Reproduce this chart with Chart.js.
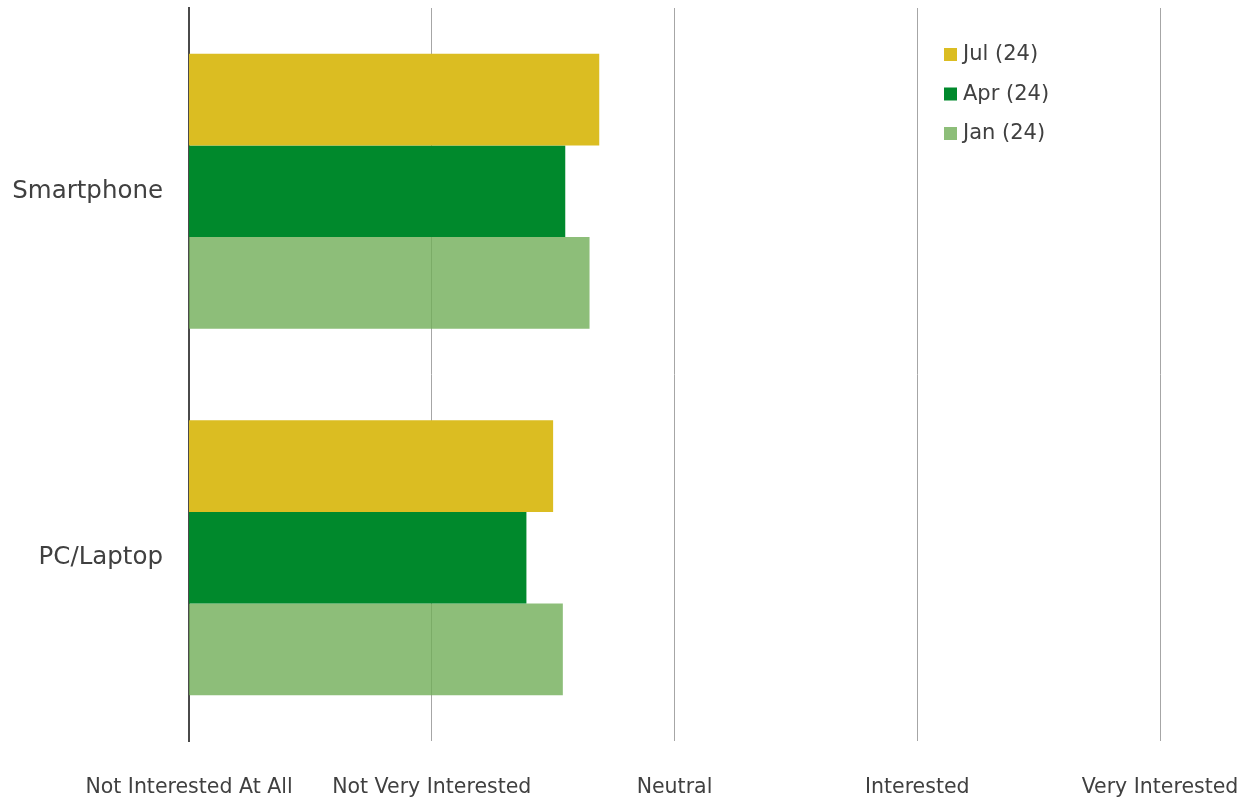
<!DOCTYPE html>
<html>
<head>
<meta charset="utf-8">
<script src="https://cdn.jsdelivr.net/npm/chart.js@4/dist/chart.umd.min.js"></script>
<style>
  html, body { margin: 0; padding: 0; background: #ffffff; }
  #wrap { width: 1243px; height: 802px; }
</style>
</head>
<body>
<div id="wrap"><canvas id="chart" width="1243" height="802"></canvas></div>
<script>
const devices = [`Smartphone`, `PC/Laptop`];
const scaleLabels = [`Not Interested At All`, `Not Very Interested`, `Neutral`, `Interested`, `Very Interested`];

const seriesNames = [`Jul (24)`, `Apr (24)`, `Jan (24)`];
const julValues = [2.69, 2.50];
const aprValues = [2.55, 2.39];
const janValues = [2.65, 2.54];

const colors = [`#dbbd22`, `#00892c`, `rgba(112, 174, 88, 0.8)`];

const FONT = `"DejaVu Sans", Tahoma, sans-serif`;
const TEXT_COLOR = `#404040`;

// legend in the top right corner of the plot
const cornerLegend = {
  id: `cornerLegend`,
  afterDraw(chart) {
    const ctx = chart.ctx;
    ctx.save();
    ctx.font = `21px ${FONT}`;
    ctx.textBaseline = `middle`;
    chart.data.datasets.forEach((ds, i) => {
      const y = 54 + i * 39.5;
      ctx.fillStyle = ds.backgroundColor;
      ctx.fillRect(944, y - 6, 13, 13);
      ctx.fillStyle = TEXT_COLOR;
      ctx.fillText(ds.label, 963, y + 1);
    });
    ctx.restore();
  }
};

const values = [julValues, aprValues, janValues];

new Chart(document.getElementById(`chart`), {
  type: `bar`,
  plugins: [cornerLegend],
  data: {
    labels: devices,
    datasets: seriesNames.map((name, i) => ({
      label: name,
      data: values[i],
      backgroundColor: colors[i],
      hoverBackgroundColor: colors[i],
      borderWidth: 0,
      categoryPercentage: 0.75,
      barPercentage: 1.0,
    })),
  },
  options: {
    indexAxis: `y`,
    responsive: false,
    animation: false,
    layout: {
      padding: {top: 8, right: 83, left: 0, bottom: 0}
    },
    plugins: {
      legend: {display: false},
      tooltip: {enabled: false},
      title: {display: false},
    },
    scales: {
      x: {
        min: 1,
        max: 5,
        ticks: {
          stepSize: 1,
          padding: 34,
          color: TEXT_COLOR,
          font: {family: FONT, size: 20.5},
          maxRotation: 0,
          callback: (val) => scaleLabels[val - 1],
        },
        grid: {
          color: `#a6a6a6`,
          lineWidth: 1,
          drawTicks: false,
        },
        border: {display: false},
        afterFit: (scale) => {
          scale.height = 61;
          scale.paddingLeft = 0;
          scale.paddingRight = 0;
        },
      },
      y: {
        ticks: {
          color: TEXT_COLOR,
          padding: 26,
          font: {family: FONT, size: 24.5},
        },
        grid: {display: false, drawTicks: false},
        border: {display: true, color: `#4a4a4a`, width: 2},
        afterFit: (scale) => {
          scale.width = 189;
          scale.paddingTop = 0;
          scale.paddingBottom = 0;
        },
      },
    },
  },
});
</script>
</body>
</html>
